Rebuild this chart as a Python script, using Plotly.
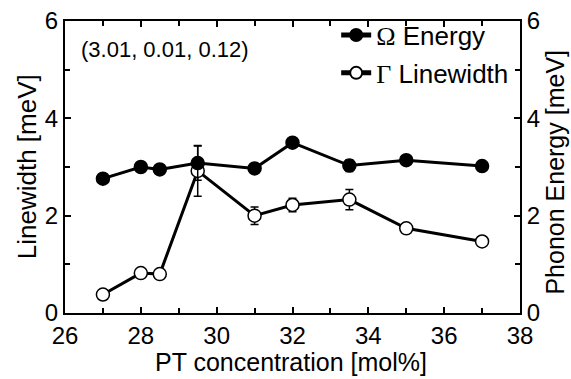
import plotly.graph_objects as go

pt_conc = [27, 28, 28.5, 29.5, 31, 32, 33.5, 35, 37]
omega_energy = [2.76, 3.0, 2.95, 3.08, 2.97, 3.5, 3.03, 3.14, 3.02]
omega_err = [0.03, 0.03, 0.03, 0.35, 0.1, 0.07, 0.12, 0.04, 0.03]
gamma_width = [0.38, 0.82, 0.8, 2.92, 2.0, 2.22, 2.33, 1.74, 1.47]
gamma_err = [0.05, 0.05, 0.05, 0.52, 0.18, 0.14, 0.21, 0.1, 0.08]

FONT = "Liberation Sans, Arial, sans-serif"
SERIF = "Liberation Serif, Times New Roman, serif"

fig = go.Figure()
fig.add_trace(go.Scatter(
    x=pt_conc, y=omega_energy, yaxis="y2", mode="lines+markers",
    name=f'<span style="font-family:{SERIF}">Ω</span> Energy', legendgroup="a",
    line=dict(color="black", width=3),
    marker=dict(symbol="circle", size=13, color="black", line=dict(color="black", width=1.5)),
    error_y=dict(type="data", array=omega_err, color="black", thickness=1.5, width=4),
))
fig.add_trace(go.Scatter(
    x=pt_conc, y=gamma_width, mode="lines+markers",
    name=f'<span style="font-family:{SERIF}">Γ</span> Linewidth', legendgroup="b",
    line=dict(color="black", width=3),
    marker=dict(symbol="circle", size=13, color="white", line=dict(color="black", width=1.5)),
    error_y=dict(type="data", array=gamma_err, color="black", thickness=1.5, width=4),
))

axis_common = dict(
    showline=True, linecolor="black", linewidth=2,
    ticks="inside", ticklen=6, tickwidth=1.5, tickcolor="black",
    showgrid=False, zeroline=False, automargin=False,
    tickfont=dict(family=FONT, size=24, color="black"),
)
minor = dict(dtick=1, ticks="inside", ticklen=5, tickwidth=1.5, tickcolor="black")

fig.update_layout(
    width=571, height=379,
    margin=dict(l=65, r=51, t=16, b=66),
    paper_bgcolor="white", plot_bgcolor="white",
    font=dict(family=FONT, size=24, color="black"),
    showlegend=True,
    legend=dict(x=0.596, y=1.032, xanchor="left", yanchor="top",
                bgcolor="rgba(0,0,0,0)", font=dict(size=26, family=FONT),
                tracegroupgap=1, itemsizing="constant"),
    xaxis=dict(range=[26, 38], dtick=2, minor=minor, mirror="ticks", **axis_common),
    yaxis=dict(range=[0, 6], dtick=2, minor=minor, **axis_common),
    yaxis2=dict(range=[0, 6], dtick=2, overlaying="y", side="right", minor=minor, **axis_common),
    annotations=[
        dict(text="(3.01, 0.01, 0.12)", x=0.03, y=0.902, xref="paper", yref="paper",
             xanchor="left", yanchor="middle", showarrow=False,
             font=dict(size=22, family=FONT)),
        dict(text="PT concentration [mol%]", x=0.497, y=-0.168, xref="paper", yref="paper",
             xanchor="center", yanchor="middle", showarrow=False, borderpad=0,
             font=dict(size=25, family=FONT)),
        dict(text="Linewidth [meV]", x=-0.083, y=0.5, xref="paper", yref="paper", textangle=-90,
             xanchor="center", yanchor="middle", showarrow=False, borderpad=0,
             font=dict(size=26, family=FONT)),
        dict(text="Phonon Energy [meV]", x=1.077, y=0.481, xref="paper", yref="paper", textangle=-90,
             xanchor="center", yanchor="middle", showarrow=False, borderpad=0,
             font=dict(size=25, family=FONT)),
    ],
)

fig.write_html("out.html", config={"displayModeBar": False},
               post_script="document.body.style.margin='0';document.body.style.overflow='hidden';")
